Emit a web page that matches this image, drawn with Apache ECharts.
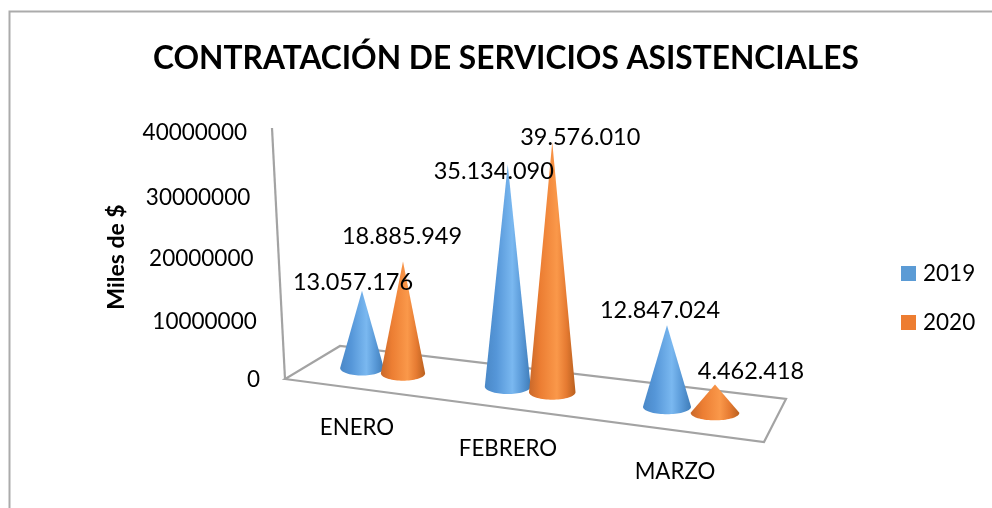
<!DOCTYPE html>
<html><head><meta charset="utf-8">
<style>html,body{margin:0;padding:0;background:#fff}#c{width:992px;height:508px}</style>
<script src="https://cdn.jsdelivr.net/npm/echarts@6/dist/echarts.min.js"></script>
</head><body><div id="c"></div>
<script>
const titleText = 'CONTRATACIÓN DE SERVICIOS ASISTENCIALES';
const yAxisName = 'Miles de $';
const categories = ['ENERO', 'FEBRERO', 'MARZO'];
const seriesNames = ['2019', '2020'];
const values2019 = [13057176, 35134090, 12847024];
const values2020 = [18885949, 39576010, 4462418];
const yTicks = [0, 10000000, 20000000, 30000000, 40000000];

const FONT = 'Lato, Carlito, sans-serif';
const GRID = {left: 300, top: 130, width: 465, height: 249};
const chart = echarts.init(document.getElementById('c'));
const yMax = yTicks[yTicks.length - 1];

// projection tuning for the pseudo 3D floor
const coneNudge = [5, -2.5, 3.5];
const depthScale = [0.95, 1.015, 1.02];
const labelNudge = [[[-9, -8], [-14, 7], [-7, -15]], [[-1, -25], [28, -5], [36, -13]]];
const catPad = [[0, 41], [21, 49], [44, 25]];
const tickDrop = [2, 10, 8, 10, 6];
const palette = [
  {legend: '#5b9bd5', stops: ['#4a88c7', '#5596d8', '#7ab8f0', '#5a9ad8', '#3f7cb8']},
  {legend: '#ed7d31', stops: ['#c9682a', '#ec7e33', '#fa984a', '#e67b32', '#b9601f']}
];

function fmt(v) { return String(v).replace(/\B(?=(\d{3})+$)/g, '.'); }

function coneRender(seriesIdx) {
  return function (params, api) {
    const i = api.value(0), v = api.value(1);
    const u = i + (seriesIdx - 0.5) * 0.28;
    const origin = api.coord([i, 0]);
    const top = api.coord([i, v]);
    const cx = origin[0] + coneNudge[i] + (seriesIdx - 0.5) * (41 + 3.5 * i);
    const baseY = origin[1] - 11 + 0.127 * (cx - 362);
    const h = (origin[1] - top[1]) * depthScale[i];
    const rx = 22 + 1.1 * u, ry = 7.5;
    const apex = [cx, baseY - h];
    const pts = [apex];
    for (let k = 0; k <= 36; k++) {
      const a = Math.PI * k / 36;
      pts.push([cx - rx * Math.cos(a), baseY + ry * Math.sin(a)]);
    }
    const s = palette[seriesIdx].stops;
    const fill = new echarts.graphic.LinearGradient(0, 0, 1, 0, [
      {offset: 0, color: s[0]}, {offset: 0.25, color: s[1]}, {offset: 0.6, color: s[2]},
      {offset: 0.8, color: s[3]}, {offset: 1, color: s[4]}
    ]);
    const n = labelNudge[seriesIdx][i];
    return {type: 'group', children: [
      {type: 'polygon', z2: 5 + seriesIdx, shape: {points: pts}, style: {fill: fill}},
      {type: 'text', z2: 100, style: {
        text: fmt(v), x: apex[0] + n[0], y: apex[1] + n[1], align: 'center', verticalAlign: 'middle',
        font: '23.5px ' + FONT, fill: '#000'
      }}
    ]};
  };
}

function floorRender(params, api) {
  const c = api.coord([0, 0]);
  const o = [c[0] - api.size([1, 0])[0] / 2, c[1]];
  const front = [o[0] - 15, o[1]];
  const right = [o[0] + 464, o[1] + 63];
  const back = [o[0] + 486, o[1] + 20];
  const backL = [o[0] + 40, o[1] - 33];
  const wallTop = [o[0] - 28, o[1] - 251];
  return {type: 'group', children: [
    {type: 'polygon', shape: {points: [front, right, back, backL]}, style: {fill: '#fff', stroke: '#a3a3a3', lineWidth: 2.2}},
    {type: 'polyline', shape: {points: [wallTop, front]}, style: {fill: 'none', stroke: '#a3a3a3', lineWidth: 2.2}}
  ]};
}

const richY = {}, richX = {};
yTicks.forEach((t, k) => {
  richY['r' + k] = {fontFamily: FONT, fontSize: 22.5, color: '#000', padding: [tickDrop[k], 13 * t / yMax, 0, 0]};
});
categories.forEach((c, k) => {
  richX['c' + k] = {fontFamily: FONT, fontSize: 22.3, color: '#000', padding: [catPad[k][0], catPad[k][1], 0, 0]};
});

chart.setOption({
  animation: false,
  backgroundColor: '#fff',
  title: {text: titleText, left: 148, top: 38, itemGap: 0,
    textStyle: {fontFamily: FONT, fontWeight: 'bold', fontSize: 31.7, color: '#000'}},
  legend: {data: seriesNames, icon: 'rect', orient: 'vertical', left: 896, top: 257, itemWidth: 15, itemHeight: 15, itemGap: 26,
    textStyle: {fontFamily: FONT, fontSize: 22.5, color: '#000', padding: [0, 0, 0, 2]}},
  grid: GRID,
  xAxis: {type: 'category', data: categories,
    axisLine: {show: false}, axisTick: {show: false}, splitLine: {show: false},
    axisLabel: {margin: 38, interval: 0, formatter: (val, idx) => '{c' + idx + '|' + val + '}', rich: richX}},
  yAxis: {type: 'value', min: 0, max: yMax, interval: 10000000,
    name: yAxisName, nameLocation: 'middle', nameRotate: 90, nameGap: 172,
    nameTextStyle: {fontFamily: FONT, fontWeight: 'bold', fontSize: 23, color: '#000', padding: [0, 5, 0, 0]},
    axisLine: {show: false}, axisTick: {show: false}, splitLine: {show: false},
    axisLabel: {margin: 40, formatter: (val) => '{r' + yTicks.indexOf(val) + '|' + val + '}', rich: richY}},
  graphic: [{type: 'polyline', silent: true, z: -1,
    shape: {points: [[9.5, 520], [9.5, 11.5], [1000, 11.5]]},
    style: {fill: 'none', stroke: '#ababab', lineWidth: 2}}],
  series: [
    {type: 'custom', name: 'floor', z: 1, silent: true, renderItem: floorRender, data: [[0, 0]], encode: {x: 0, y: 1}, clip: false},
    {type: 'custom', name: seriesNames[0], z: 2, renderItem: coneRender(0), itemStyle: {color: palette[0].legend},
      data: values2019.map((v, i) => [i, v]), encode: {x: 0, y: 1}, clip: false},
    {type: 'custom', name: seriesNames[1], z: 2, renderItem: coneRender(1), itemStyle: {color: palette[1].legend},
      data: values2020.map((v, i) => [i, v]), encode: {x: 0, y: 1}, clip: false}
  ]
});
</script></body></html>
